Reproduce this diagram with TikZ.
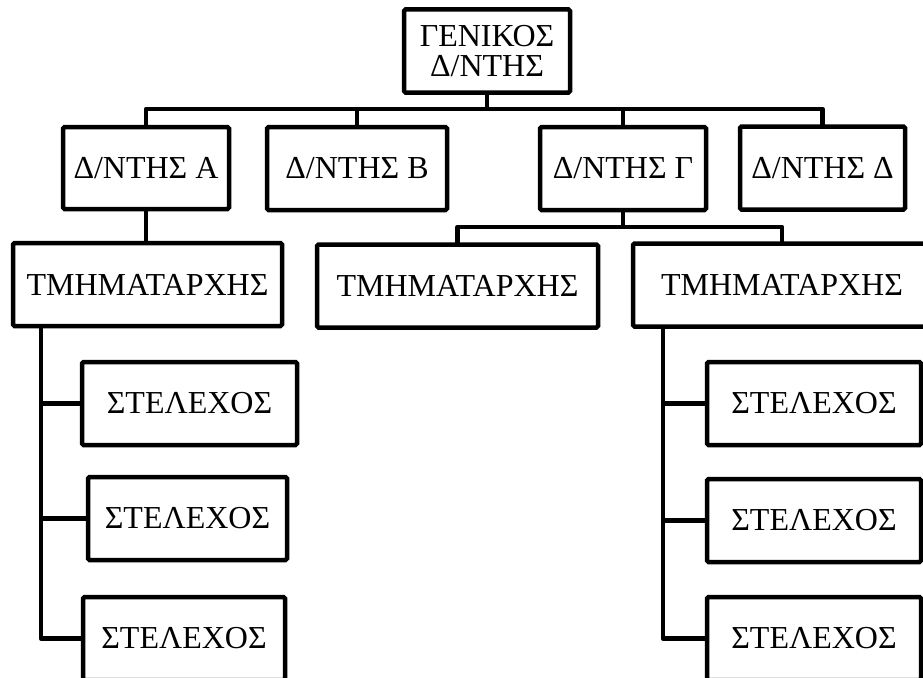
\documentclass[tikz,border=0pt]{standalone}
\usepackage{fontspec}
\setmainfont{Liberation Serif}
\begin{document}
\begin{tikzpicture}[x=1pt,y=-1pt,
  box/.style={draw, line width=4.5pt, rounded corners=1.5pt, inner sep=0pt, align=center,
    font=\fontsize{32}{30}\selectfont, minimum height=83pt},
  conn/.style={line width=4.5pt, line join=round, line cap=rect}]
\useasboundingbox (0,0) rectangle (923,677);
\clip (0,0) rectangle (923,677);
\fill[white] (0,0) rectangle (923,677);
% level 1
\node[box, minimum width=166pt] (gd) at (487,51) {ΓΕΝΙΚΟΣ\\Δ/ΝΤΗΣ};
% level 2
\node[box, minimum width=166pt, minimum height=82pt] (da) at (146,168) {Δ/ΝΤΗΣ Α};
\node[box, minimum width=180pt] (db) at (357,168.5) {Δ/ΝΤΗΣ Β};
\node[box, minimum width=166pt] (dg) at (623,168.5) {Δ/ΝΤΗΣ Γ};
\node[box, minimum width=165pt] (dd) at (822.5,168) {Δ/ΝΤΗΣ Δ};
% level 3
\node[box, minimum width=269pt] (tm1) at (147.5,284.5) {ΤΜΗΜΑΤΑΡΧΗΣ};
\node[box, minimum width=281pt] (tm2) at (457.5,286) {ΤΜΗΜΑΤΑΡΧΗΣ};
\node[box, minimum width=298pt] (tm3) at (782,285) {ΤΜΗΜΑΤΑΡΧΗΣ};
% staff left
\node[box, minimum width=215pt] (ls1) at (189.5,403.5) {ΣΤΕΛΕΧΟΣ};
\node[box, minimum width=199pt] (ls2) at (187.5,518.5) {ΣΤΕΛΕΧΟΣ};
\node[box, minimum width=202pt] (ls3) at (184,638.5) {ΣΤΕΛΕΧΟΣ};
% staff right
\node[box, minimum width=214pt] (rs1) at (814,403.5) {ΣΤΕΛΕΧΟΣ};
\node[box, minimum width=214pt] (rs2) at (814,520.5) {ΣΤΕΛΕΧΟΣ};
\node[box, minimum width=214pt] (rs3) at (814,638.5) {ΣΤΕΛΕΧΟΣ};
% connectors
\coordinate (bus) at (0,109);
\coordinate (bus2) at (0,227);
\coordinate (lv) at (41,0);
\coordinate (rv) at (663,0);
\draw[conn] (gd.south) -- (gd.south |- bus);
\draw[conn] (da.north) |- (dd.north |- bus) -- (dd.north);
\draw[conn] (db.north) -- (db.north |- bus);
\draw[conn] (dg.north) -- (dg.north |- bus);
\draw[conn] (da.south) -- (da.south |- tm1.north);
\draw[conn] (dg.south) -- (dg.south |- bus2);
\draw[conn] (tm2.north) |- (tm3.north |- bus2) -- (tm3.north);
\draw[conn] (tm1.south -| lv) |- (ls3.west);
\draw[conn] (lv |- ls1.west) -- (ls1.west);
\draw[conn] (lv |- ls2.west) -- (ls2.west);
\draw[conn] (tm3.south -| rv) |- (rs3.west);
\draw[conn] (rv |- rs1.west) -- (rs1.west);
\draw[conn] (rv |- rs2.west) -- (rs2.west);
\end{tikzpicture}
\end{document}
